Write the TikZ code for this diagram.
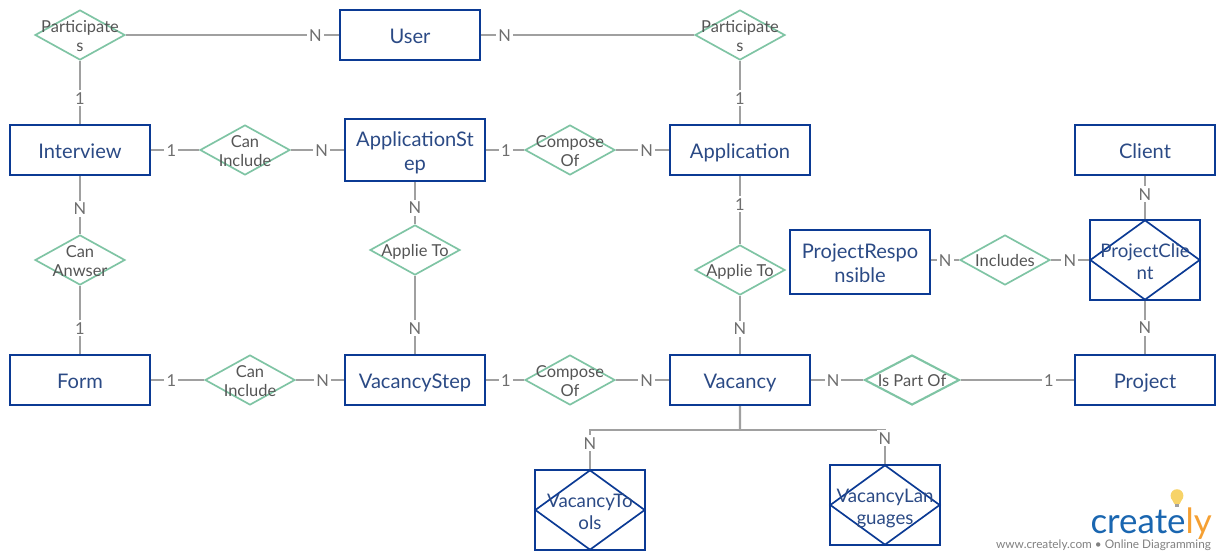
\documentclass[tikz,border=0pt]{standalone}
\usepackage{fontspec}
\setmainfont{Lato}
\usetikzlibrary{shapes.geometric}
\definecolor{entblue}{HTML}{0B3A94}
\definecolor{enttext}{HTML}{2B4A85}
\definecolor{relgreen}{HTML}{7FC4A4}
\definecolor{linkgray}{HTML}{A0A0A0}
\definecolor{reltext}{HTML}{555555}
\definecolor{logoblue}{HTML}{1A66B0}
\definecolor{logoorange}{HTML}{F5A033}
\definecolor{bulb}{HTML}{F7D368}
\begin{document}
\begin{tikzpicture}[
  entity/.style={draw=entblue, line width=1.6pt, minimum width=3.5cm, minimum height=1.25cm, inner sep=0pt,
    label={[text=enttext, align=center, yshift=-.095cm, font=\fontsize{14.3}{17}\selectfont]center:{\strut #1\strut}}},
  weak/.style={draw=entblue, line width=1.6pt, minimum width=2.75cm, minimum height=2cm, inner sep=0pt},
  rel/.style={diamond, draw=relgreen, line width=1.2pt, minimum width=2.25cm, minimum height=1.25cm, inner sep=0pt,
    label={[text=reltext, align=center, yshift=-.075cm, font=\fontsize{11.7}{14}\selectfont]center:{\strut #1\strut}}},
  weakrel/.style={diamond, draw=entblue, line width=1.2pt, minimum width=2.75cm, minimum height=2cm, inner sep=0pt,
    label={[text=enttext, align=center, yshift=-.1cm, font=\fontsize{13.3}{16}\selectfont]center:{\strut #1\strut}}},
  link/.style={draw=linkgray, line width=1.5pt},
  card/.style={fill=white, text=reltext!85!white, font=\fontsize{11.7}{14}\selectfont, inner sep=1.5pt, yshift=-.025cm}
]
\useasboundingbox (0,0) rectangle (30.625,-14);

\node[entity={Interview}] (interview) at (2,-3.75) {};
\node[rel={Can\\Include}] (caninc1) [right of=interview, node distance=4.125cm] {};
\node[entity={ApplicationSt\\ep}] (appstep) [right of=caninc1, node distance=4.25cm, minimum height=1.55cm] {};
\node[rel={Compose\\Of}] (compose1) [right of=appstep, node distance=3.875cm] {};
\node[entity={Application}] (application) [right of=compose1, node distance=4.25cm] {};

\node[rel={Participate\\s}] (part1) [above of=interview, node distance=2.875cm] {};
\node[rel={Participate\\s}] (part2) [above of=application, node distance=2.875cm] {};
\node[entity={User}] (user) [right of=part1, node distance=8.25cm] {};

\node[rel={Can\\Anwser}] (cananswer) [below of=interview, node distance=2.75cm] {};
\node[entity={Form}] (form) [below of=cananswer, node distance=3cm] {};
\node[rel={Can\\Include}] (caninc2) [right of=form, node distance=4.25cm] {};
\node[entity={VacancyStep}] (vacstep) [right of=caninc2, node distance=4.125cm] {};
\node[rel={Compose\\Of}] (compose2) [right of=vacstep, node distance=3.875cm] {};
\node[entity={Vacancy}] (vacancy) [right of=compose2, node distance=4.25cm] {};
\node[rel={Is Part Of}] (partof) [right of=vacancy, node distance=4.3cm, minimum width=2.375cm, line width=1.5pt] {};
\node[entity={Project}] (project) [right of=partof, node distance=5.825cm] {};

\node[rel={Applie To}] (applie1) [below of=appstep, node distance=2.5cm] {};
\node[rel={Applie To}] (applie2) [below of=application, node distance=3cm] {};

\node[entity={Client}] (client) [above of=project, node distance=5.75cm] {};
\node[weak] (pclient) [below of=client, node distance=2.75cm] {};
\node[weakrel={ProjectClie\\nt}] (pclientrel) at (pclient) {};
\node[rel={Includes}] (includes) [left of=pclient, node distance=3.5cm] {};
\node[entity={ProjectRespo\\nsible}] (presp) [left of=includes, node distance=3.625cm, yshift=-.05cm, minimum height=1.6cm] {};

\node[weak] (vactools) at (14.75,-12.75) {};
\node[weakrel={VacancyTo\\ols}] (vactoolsrel) at (vactools) {};
\node[weak] (vaclang) at (22.125,-12.625) {};
\node[weakrel={VacancyLan\\guages}] (vaclangrel) at (vaclang) {};
\coordinate (fork) at (18.5,-10.75);

\draw[link] (part1) -- node[card, pos=.89] {N} (user);
\draw[link] (user) -- node[card, pos=.11] {N} (part2);
\draw[link] (part1) -- node[card, pos=.58] {1} (interview);
\draw[link] (part2) -- node[card, pos=.58] {1} (application);
\draw[link] (interview) -- node[card, pos=.42] {1} (caninc1);
\draw[link] (caninc1) -- node[card, pos=.58] {N} (appstep);
\draw[link] (appstep) -- node[card, pos=.52] {1} (compose1);
\draw[link] (compose1) -- node[card, pos=.58] {N} (application);
\draw[link] (interview) -- node[card, pos=.55] {N} (cananswer);
\draw[link] (cananswer) -- node[card, pos=.61] {1} (form);
\draw[link] (appstep) -- node[card, pos=.58] {N} (applie1);
\draw[link] (applie1) -- node[card, pos=.66] {N} (vacstep);
\draw[link] (application) -- node[card, pos=.4] {1} (applie2);
\draw[link] (applie2) -- node[card, pos=.55] {N} (vacancy);
\draw[link] (form) -- node[card, pos=.38] {1} (caninc2);
\draw[link] (caninc2) -- node[card, pos=.56] {N} (vacstep);
\draw[link] (vacstep) -- node[card, pos=.52] {1} (compose2);
\draw[link] (compose2) -- node[card, pos=.58] {N} (vacancy);
\draw[link] (vacancy) -- node[card, pos=.42] {N} (partof);
\draw[link] (partof) -- node[card, pos=.78] {1} (project);
\draw[link] (includes -| presp.east) -- node[card, pos=.5] {N} (includes);
\draw[link] (includes) -- node[card, pos=.5] {N} (pclient);
\draw[link] (client) -- node[card, pos=.4] {N} (pclient);
\draw[link] (pclient) -- node[card, pos=.49] {N} (project);
\draw[link] (vacancy) -- (fork);
\draw[link] (fork) -| node[card, pos=.66] {N} (vactools);
\draw[link] (fork) -| node[card, pos=.61] {N} (vaclang);

% logo
\node[anchor=base east, inner sep=0pt, font=\fontsize{24.8}{25}\selectfont, text=logoblue] (logo) at (30.3,-13.33)
  {create\textcolor{logoorange}{ly}};
\node[anchor=base east, inner sep=0pt, font=\fontsize{8.4}{9}\selectfont, text=gray] (logotext) at (30.28,-13.72)
  {www.creately.com • Online Diagramming};
\fill[bulb] (29.425,-12.39) circle (.16);
\fill[bulb] (29.28,-12.45) -- (29.57,-12.45) -- (29.49,-12.6) -- (29.36,-12.6) -- cycle;
\fill[linkgray] (29.37,-12.6) rectangle (29.48,-12.68);
\end{tikzpicture}
\end{document}
